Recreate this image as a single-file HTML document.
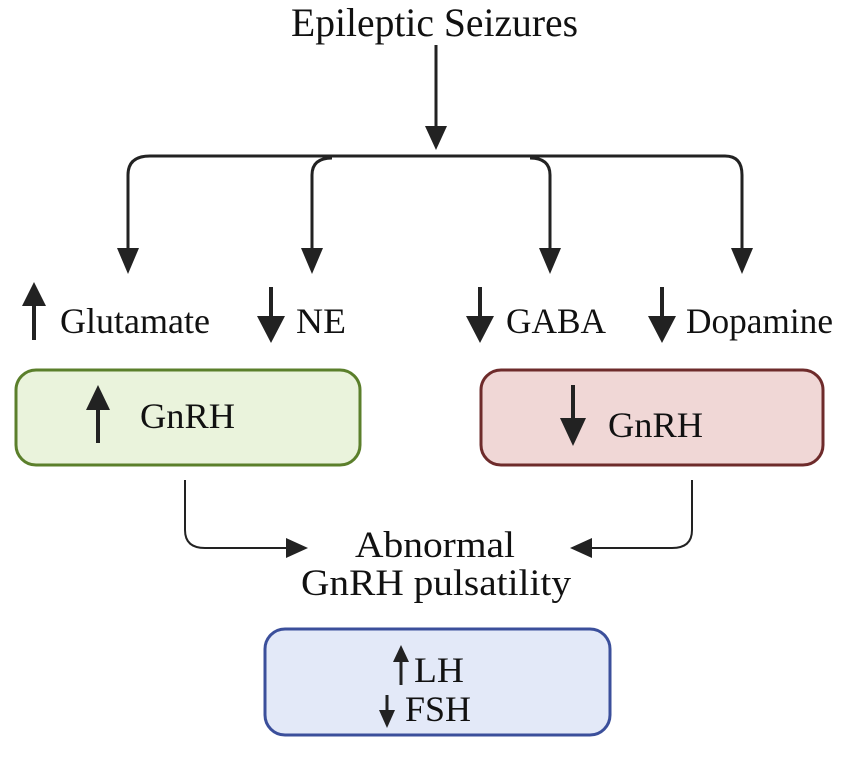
<!DOCTYPE html>
<html><head><meta charset="utf-8"><style>
body{margin:0;background:#fff}
svg text{font-family:"Liberation Serif",serif;fill:#111}
</style></head><body>
<svg width="850" height="755" viewBox="0 0 850 755" xmlns="http://www.w3.org/2000/svg">
<text x="291" y="36" font-size="40" textLength="287" lengthAdjust="spacingAndGlyphs">Epileptic Seizures</text>
<line x1="436" y1="45" x2="436" y2="128" stroke="#222" stroke-width="3"/>
<path d="M425,126 L447,126 L436,150 z" fill="#222"/>
<path d="M128,250 V175 Q128,156 150,156 H725 Q742,156 742,175 V250" fill="none" stroke="#222" stroke-width="3"/>
<path d="M312,250 V175 Q312,158 332,158" fill="none" stroke="#222" stroke-width="3"/>
<path d="M550,250 V175 Q550,158 530,158" fill="none" stroke="#222" stroke-width="3"/>
<g fill="#222">
<path d="M117,248 L139,248 L128,274 z"/>
<path d="M301,248 L323,248 L312,274 z"/>
<path d="M539,248 L561,248 L550,274 z"/>
<path d="M731,248 L753,248 L742,274 z"/>
</g>
<g stroke="#222" stroke-width="4" fill="#222">
<line x1="34" y1="340" x2="34" y2="300"/><path d="M22,306 L46,306 L34,282 z" stroke="none"/>
<line x1="271" y1="287" x2="271" y2="320"/><path d="M257,316 L285,316 L271,343 z" stroke="none"/>
<line x1="480" y1="287" x2="480" y2="320"/><path d="M466,316 L494,316 L480,343 z" stroke="none"/>
<line x1="662" y1="287" x2="662" y2="320"/><path d="M648,316 L676,316 L662,343 z" stroke="none"/>
</g>
<text x="60" y="333" font-size="36" textLength="150" lengthAdjust="spacingAndGlyphs">Glutamate</text>
<text x="296" y="333" font-size="36" textLength="50" lengthAdjust="spacingAndGlyphs">NE</text>
<text x="506" y="333" font-size="36" textLength="100" lengthAdjust="spacingAndGlyphs">GABA</text>
<text x="686" y="333" font-size="36" textLength="147" lengthAdjust="spacingAndGlyphs">Dopamine</text>
<rect x="16" y="370" width="344" height="95" rx="20" fill="#eaf3dc" stroke="#5b7f2b" stroke-width="3"/>
<rect x="481" y="370" width="342" height="95" rx="20" fill="#f0d7d6" stroke="#6e2b2b" stroke-width="3"/>
<g stroke="#222" stroke-width="4" fill="#222">
<line x1="98" y1="443" x2="98" y2="405"/><path d="M86,410 L110,410 L98,385 z" stroke="none"/>
<line x1="573" y1="385" x2="573" y2="420"/><path d="M560,418 L586,418 L573,446 z" stroke="none"/>
</g>
<text x="140" y="428" font-size="36" textLength="95" lengthAdjust="spacingAndGlyphs">GnRH</text>
<text x="608" y="437" font-size="36" textLength="95" lengthAdjust="spacingAndGlyphs">GnRH</text>
<path d="M185,480 V530 Q185,548 205,548 H290" fill="none" stroke="#222" stroke-width="2"/>
<path d="M286,538 L308,548 L286,558 z" fill="#222"/>
<path d="M692,480 V530 Q692,548 672,548 H590" fill="none" stroke="#222" stroke-width="2"/>
<path d="M592,538 L570,548 L592,558 z" fill="#222"/>
<text x="355" y="557" font-size="37" textLength="160" lengthAdjust="spacingAndGlyphs">Abnormal</text>
<text x="301" y="595" font-size="37" textLength="270" lengthAdjust="spacingAndGlyphs">GnRH pulsatility</text>
<rect x="265" y="629" width="345" height="106" rx="20" fill="#e3e9f8" stroke="#3b4f9b" stroke-width="3"/>
<g stroke="#222" stroke-width="3" fill="#222">
<line x1="401" y1="685" x2="401" y2="660"/><path d="M393,662 L409,662 L401,645 z" stroke="none"/>
<line x1="387" y1="695" x2="387" y2="712"/><path d="M379,710 L395,710 L387,728 z" stroke="none"/>
</g>
<text x="414" y="682" font-size="36" textLength="50" lengthAdjust="spacingAndGlyphs">LH</text>
<text x="405" y="721" font-size="36" textLength="66" lengthAdjust="spacingAndGlyphs">FSH</text>
</svg>
</body></html>
